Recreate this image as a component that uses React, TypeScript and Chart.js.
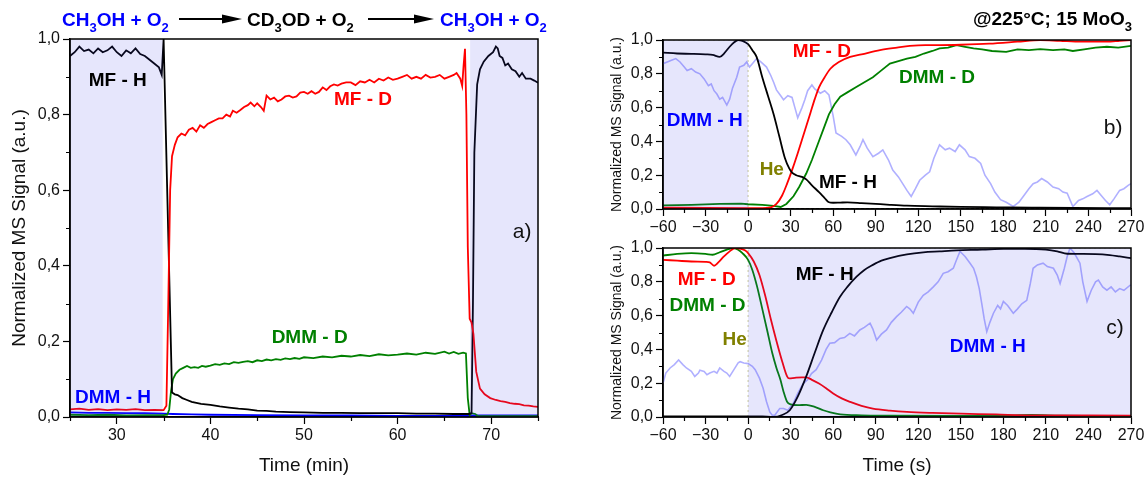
import React, { useEffect, useRef } from "react";
import { Chart, registerables } from "chart.js";
Chart.register(...registerables);

const FONT = '"Liberation Sans", Arial, Helvetica, sans-serif';
const SHADE = "rgba(60,60,230,0.13)";
const RED = "#ff0000";
const GREEN = "#008000";
const BLACK = "#000000";
const BLUE = "#0000ff";
const LIGHT = "#b0b0ff";
const HECOL = "rgba(175,175,100,0.55)";
const OLIVE = "#808000";

type P = [number, number];

// ---------- tick labels ----------
const yTickLabels = ["0,0", "0,2", "0,4", "0,6", "0,8", "1,0"];
const aXTickLabels = ["30", "40", "50", "60", "70"]; // at 30..70 min
const sXTickLabels = ["−60", "−30", "0", "30", "60", "90", "120", "150", "180", "210", "240", "270"];

// ---------- panel a (time in min) ----------
const aMfH: P[] = [
  [25, 0.955], [25.5, 0.965], [26, 0.98], [26.5, 0.968], [27, 0.972], [27.5, 0.962], [28, 0.975], [28.5, 0.965],
  [29, 0.97], [29.5, 0.98], [30, 0.965], [30.5, 0.955], [31, 0.97], [31.5, 0.962], [32, 0.975], [32.5, 0.96],
  [33, 0.955], [33.5, 0.945], [34, 0.935], [34.5, 0.925], [34.8, 0.905], [35.0, 1.0], [35.9, 0.065], [36.2, 0.06],
  [36.5, 0.058], [37, 0.05], [37.5, 0.045], [38, 0.04], [39, 0.035], [40, 0.032], [41, 0.028], [42, 0.025],
  [43, 0.022], [44, 0.02], [45, 0.017], [46, 0.016], [47, 0.014], [48.5, 0.013], [50, 0.012], [52, 0.011],
  [54, 0.011], [56, 0.01], [58, 0.01], [60, 0.01], [62, 0.009], [64, 0.009], [66, 0.008], [67.6, 0.008],
  [67.9, 0.01], [68.05, 0.3], [68.2, 0.7], [68.5, 0.88], [68.8, 0.92], [69.2, 0.94], [69.7, 0.955], [70.2, 0.965],
  [70.5, 0.98], [70.7, 0.975], [70.9, 0.955], [71.2, 0.95], [71.5, 0.93], [71.8, 0.935], [72.2, 0.92], [72.6, 0.915],
  [73, 0.9], [73.3, 0.91], [73.7, 0.895], [74.2, 0.895], [74.6, 0.89], [75, 0.884],
];
const aMfD: P[] = [
  [25, 0.02], [26, 0.022], [27, 0.019], [28, 0.021], [29, 0.018], [30, 0.02], [31, 0.019], [32, 0.021], [33, 0.018],
  [34, 0.019], [35, 0.018], [35.3, 0.03], [35.5, 0.3], [35.7, 0.6], [35.9, 0.69], [36.2, 0.72], [36.5, 0.74],
  [36.9, 0.75], [37.3, 0.745], [37.7, 0.76], [38.1, 0.765], [38.5, 0.755], [38.9, 0.772], [39.3, 0.765],
  [39.7, 0.775], [40.1, 0.78], [40.5, 0.785], [40.9, 0.79], [41.3, 0.79], [41.7, 0.8], [42.1, 0.795], [42.4, 0.81],
  [42.8, 0.805], [43.2, 0.812], [43.6, 0.82], [44.0, 0.825], [44.3, 0.832], [44.7, 0.822], [45.0, 0.83],
  [45.4, 0.82], [45.7, 0.81], [46.0, 0.85], [46.4, 0.84], [46.8, 0.845], [47.2, 0.835], [47.6, 0.84], [48.0, 0.848],
  [48.4, 0.85], [48.8, 0.845], [49.2, 0.848], [49.6, 0.858], [50.0, 0.86], [50.4, 0.855], [50.8, 0.862],
  [51.2, 0.855], [51.6, 0.86], [52.0, 0.872], [52.4, 0.865], [52.8, 0.875], [53.2, 0.88], [53.6, 0.877],
  [54.0, 0.882], [54.5, 0.885], [55, 0.885], [55.5, 0.878], [56, 0.888], [56.5, 0.885], [57, 0.892], [57.5, 0.885],
  [58, 0.895], [58.5, 0.89], [59, 0.898], [59.5, 0.892], [60, 0.895], [60.5, 0.9], [61, 0.905], [61.5, 0.895],
  [62, 0.9], [62.5, 0.895], [63, 0.905], [63.5, 0.898], [64, 0.9], [64.5, 0.905], [65, 0.895], [65.5, 0.9],
  [66, 0.905], [66.3, 0.91], [66.7, 0.895], [66.9, 0.876], [67.05, 0.93], [67.2, 0.974], [67.35, 0.8], [67.5, 0.45],
  [67.7, 0.26], [67.9, 0.25], [68.1, 0.22], [68.4, 0.12], [68.8, 0.075], [69.3, 0.06], [69.9, 0.05], [70.5, 0.045],
  [71, 0.042], [71.5, 0.04], [72, 0.037], [72.5, 0.035], [73, 0.034], [73.5, 0.031], [74, 0.03], [74.5, 0.028],
  [75, 0.027],
];
const aDmmD: P[] = [
  [25, 0.006], [27, 0.005], [29, 0.006], [31, 0.004], [33, 0.005], [35, 0.005], [35.4, 0.006], [35.6, 0.02],
  [35.8, 0.07], [36.0, 0.1], [36.3, 0.115], [36.7, 0.125], [37.1, 0.13], [37.5, 0.135], [37.9, 0.13], [38.3, 0.132],
  [38.7, 0.13], [39.1, 0.135], [39.5, 0.133], [40, 0.136], [40.5, 0.14], [41, 0.138], [41.5, 0.142], [42, 0.14],
  [42.5, 0.145], [43, 0.143], [43.5, 0.146], [44, 0.148], [44.5, 0.145], [45, 0.15], [45.5, 0.148], [46, 0.152],
  [46.5, 0.15], [47, 0.153], [47.5, 0.151], [48, 0.155], [48.5, 0.153], [49, 0.156], [49.5, 0.154], [50, 0.158],
  [51, 0.156], [52, 0.16], [53, 0.158], [54, 0.162], [55, 0.16], [56, 0.164], [57, 0.161], [58, 0.166], [59, 0.163],
  [60, 0.165], [61, 0.168], [62, 0.165], [63, 0.17], [64, 0.167], [65, 0.173], [65.5, 0.168], [66, 0.172],
  [66.5, 0.167], [67, 0.17], [67.3, 0.168], [67.5, 0.05], [67.7, 0.005], [67.9, 0.01], [68.3, 0.008], [68.6, 0.002],
  [70, 0.002], [75, 0.002],
];
const aDmmH: P[] = [
  [25, 0.012], [27, 0.011], [29, 0.011], [31, 0.01], [33, 0.01], [35, 0.009], [36, 0.008], [38, 0.007], [40, 0.006],
  [45, 0.005], [50, 0.004], [55, 0.004], [60, 0.003], [65, 0.003], [67.5, 0.003], [68, 0.004], [70, 0.004], [75, 0.004],
];
const aShades: P[] = [[25, 34.9], [67.75, 75]];

// ---------- panel b (time in s) ----------
const bMfH: P[] = [
  [-60, 0.925], [-50, 0.92], [-40, 0.918], [-30, 0.915], [-25, 0.912], [-20, 0.9], [-17, 0.92], [-13, 0.96],
  [-10, 0.985], [-7, 1.0], [-4, 0.995], [0, 0.975], [3, 0.94], [6, 0.9], [10, 0.78], [14, 0.67], [18, 0.56],
  [22, 0.43], [26, 0.3], [29, 0.24], [31, 0.215], [34, 0.2], [38, 0.19], [41, 0.175], [45, 0.14], [50, 0.1],
  [54, 0.065], [57, 0.04], [60, 0.037], [65, 0.038], [70, 0.039], [80, 0.035], [90, 0.03], [100, 0.025],
  [112, 0.02], [130, 0.016], [150, 0.012], [175, 0.01], [200, 0.008], [230, 0.006], [270, 0.005],
];
const bMfD: P[] = [
  [-60, 0.008], [-30, 0.006], [0, 0.005], [10, 0.005], [16, 0.01], [20, 0.03], [24, 0.08], [27.5, 0.15], [31, 0.23],
  [35, 0.33], [38, 0.41], [41, 0.49], [44, 0.57], [47, 0.65], [50, 0.72], [54, 0.78], [58, 0.83], [64, 0.87],
  [72, 0.9], [80, 0.915], [93, 0.94], [105, 0.955], [114, 0.965], [125, 0.97], [135, 0.97], [150, 0.972],
  [170, 0.978], [190, 0.99], [206, 1.0], [220, 0.995], [235, 0.99], [253, 0.99], [262, 0.995], [270, 1.0],
];
const bDmmD: P[] = [
  [-60, 0.022], [-40, 0.025], [-20, 0.03], [-5, 0.032], [0, 0.028], [10, 0.025], [18, 0.018], [23, 0.012],
  [27, 0.03], [32, 0.075], [36, 0.13], [41, 0.21], [45, 0.29], [49, 0.38], [53, 0.47], [57, 0.56], [61, 0.62],
  [65, 0.665], [70, 0.69], [76, 0.72], [82, 0.75], [88, 0.78], [94, 0.82], [100, 0.86], [106, 0.875], [112, 0.89],
  [118, 0.9], [124, 0.92], [130, 0.935], [135, 0.95], [141, 0.955], [147, 0.97], [153, 0.96], [159, 0.95],
  [165, 0.945], [172, 0.935], [182, 0.93], [190, 0.945], [198, 0.94], [206, 0.946], [215, 0.94], [223, 0.945],
  [229, 0.935], [237, 0.945], [245, 0.955], [253, 0.96], [261, 0.955], [270, 0.965],
];
const bDmmH: P[] = [
  [-60, 0.86], [-57, 0.87], [-54, 0.88], [-51, 0.89], [-48, 0.87], [-45, 0.84], [-43, 0.82], [-40, 0.83],
  [-37, 0.81], [-34, 0.8], [-31, 0.77], [-28, 0.73], [-26, 0.74], [-24, 0.7], [-22, 0.68], [-20, 0.65], [-18, 0.66],
  [-15, 0.615], [-13, 0.65], [-11, 0.715], [-8, 0.78], [-6, 0.84], [-3, 0.85], [-1, 0.87], [1, 0.84], [3, 0.86],
  [6, 0.89], [9, 0.87], [13, 0.84], [16, 0.79], [18, 0.75], [20, 0.705], [23, 0.67], [25, 0.646], [28, 0.67],
  [31, 0.66], [33, 0.6], [35, 0.54], [38, 0.6], [40, 0.646], [42, 0.7], [45, 0.734], [47, 0.71], [51, 0.685],
  [54, 0.7], [57, 0.675], [60, 0.55], [62, 0.45], [66, 0.43], [69, 0.41], [72, 0.38], [76, 0.32], [79, 0.37],
  [81, 0.41], [84, 0.36], [88, 0.31], [92, 0.33], [95, 0.35], [99, 0.29], [102, 0.23], [106, 0.19], [109, 0.15],
  [112, 0.11], [115, 0.074], [118, 0.12], [121, 0.17], [125, 0.2], [128, 0.22], [131, 0.3], [135, 0.38],
  [139, 0.35], [142, 0.36], [146, 0.34], [149, 0.38], [153, 0.35], [156, 0.31], [160, 0.3], [164, 0.27], [167, 0.2],
  [171, 0.15], [174, 0.1], [178, 0.055], [182, 0.04], [187, 0.015], [191, 0.04], [194, 0.074], [198, 0.12],
  [201, 0.15], [204, 0.16], [207, 0.18], [211, 0.16], [215, 0.13], [219, 0.12], [222, 0.1], [225, 0.094],
  [229, 0.015], [233, 0.05], [236, 0.06], [239, 0.074], [243, 0.09], [246, 0.11], [249, 0.08], [252, 0.05],
  [255, 0.025], [258, 0.06], [262, 0.11], [265, 0.12], [268, 0.14], [270, 0.15],
];
const bHe: P[] = [[-60, 1], [0, 1], [0, 0], [270, 0]];
const bShades: P[] = [[-60, 0]];

// ---------- panel c (time in s) ----------
const cMfD: P[] = [
  [-60, 0.93], [-50, 0.925], [-40, 0.92], [-30, 0.918], [-27, 0.915], [-24, 0.895], [-21, 0.915], [-17, 0.95],
  [-13, 0.98], [-9, 1.0], [-5, 0.995], [-2, 0.985], [0, 0.97], [4, 0.92], [8, 0.84], [12, 0.72], [16, 0.58],
  [20, 0.45], [24, 0.33], [27.5, 0.24], [29, 0.228], [33, 0.232], [38, 0.235], [41, 0.235], [45, 0.22], [50, 0.198],
  [55, 0.17], [60, 0.139], [66, 0.11], [72, 0.089], [80, 0.066], [88, 0.05], [100, 0.038], [112, 0.03],
  [130, 0.024], [150, 0.02], [175, 0.015], [200, 0.01], [230, 0.009], [270, 0.008],
];
const cDmmD: P[] = [
  [-60, 0.955], [-50, 0.965], [-40, 0.97], [-30, 0.965], [-25, 0.96], [-20, 0.975], [-15, 0.99], [-10, 1.0],
  [-7, 0.99], [-4, 0.97], [0, 0.93], [3, 0.87], [6.4, 0.77], [10, 0.64], [13.4, 0.515], [17, 0.38], [20, 0.29],
  [22.8, 0.22], [25, 0.15], [27.5, 0.09], [30, 0.075], [35, 0.07], [41, 0.072], [47, 0.06], [53, 0.04],
  [58, 0.028], [65, 0.016], [80, 0.01], [100, 0.008], [150, 0.006], [180, 0.008], [200, 0.012], [220, 0.008],
  [270, 0.005],
];
const cMfH: P[] = [
  [-60, 0.003], [-30, 0.003], [0, 0.004], [10, 0.003], [18, 0.0], [24, 0.012], [29.4, 0.04], [35, 0.12], [41, 0.24],
  [47, 0.38], [53, 0.515], [59, 0.62], [64.7, 0.71], [70, 0.77], [76.5, 0.83], [82, 0.87], [88, 0.9], [94, 0.925],
  [100, 0.94], [112, 0.962], [123.5, 0.974], [135, 0.98], [147, 0.986], [165, 0.99], [180, 0.995], [195, 0.995],
  [210, 0.99], [218, 0.98], [225, 0.966], [235, 0.965], [245, 0.964], [255, 0.958], [262, 0.95], [270, 0.94],
];
const cDmmH: P[] = [
  [-60, 0.2], [-58, 0.26], [-55, 0.29], [-52, 0.31], [-49, 0.337], [-46, 0.31], [-43.5, 0.29], [-40, 0.27],
  [-37.6, 0.24], [-35, 0.26], [-34, 0.277], [-31, 0.27], [-29, 0.25], [-27, 0.26], [-24, 0.27], [-22, 0.26],
  [-20, 0.29], [-17, 0.27], [-15, 0.26], [-13, 0.24], [-10, 0.28], [-7, 0.32], [-5.6, 0.327], [-3, 0.32],
  [0, 0.316], [3, 0.3], [5, 0.28], [8, 0.23], [10.6, 0.17], [13, 0.09], [15.3, 0.03], [17, 0.01], [18.8, 0.01],
  [20.5, 0.03], [22.3, 0.05], [25, 0.05], [28, 0.04], [31.8, 0.08], [35, 0.14], [38.8, 0.198], [42, 0.22],
  [44.7, 0.257], [48, 0.28], [51.8, 0.337], [55, 0.4], [57.6, 0.436], [61, 0.44], [64.7, 0.465], [68, 0.47],
  [71.7, 0.495], [75, 0.48], [78.8, 0.515], [82, 0.53], [86, 0.555], [88, 0.52], [90.6, 0.455], [94, 0.49],
  [97.6, 0.515], [101, 0.56], [104.7, 0.594], [108, 0.62], [111.8, 0.654], [114, 0.64], [116.5, 0.614], [120, 0.68],
  [123.5, 0.72], [127, 0.74], [130.6, 0.77], [134, 0.8], [137.6, 0.85], [141, 0.86], [144.7, 0.88], [147, 0.93],
  [149.4, 0.98], [153, 0.95], [156.5, 0.91], [159, 0.88], [161, 0.83], [163, 0.76], [164.8, 0.67], [166.5, 0.58],
  [168.3, 0.505], [170.5, 0.56], [173, 0.614], [176, 0.66], [178, 0.64], [180, 0.684], [183, 0.66], [187, 0.614],
  [190, 0.64], [193, 0.67], [196.5, 0.69], [199, 0.79], [201, 0.88], [204, 0.9], [208, 0.91], [211, 0.89],
  [215.3, 0.88], [218, 0.84], [220, 0.79], [223, 0.88], [225, 0.95], [227, 1.0], [230, 0.97], [234, 0.91],
  [236, 0.8], [239, 0.684], [242, 0.75], [245, 0.8], [247, 0.81], [250, 0.77], [253, 0.75], [256, 0.77],
  [259, 0.74], [262, 0.76], [265, 0.75], [269.4, 0.78], [270, 0.78],
];
const cHe: P[] = [[-60, 0], [0, 0], [0, 1], [270, 1]];
const cShades: P[] = [[0, 270]];

// ---------- helpers ----------
type Note = { text: string; x: number; y: number; color: string; size?: number; bold?: boolean };

const mk = (p: P[]) => p.map(([x, y]) => ({ x, y }));

function line(data: P[], color: string, extra: any = {}) {
  return {
    data: mk(data),
    borderColor: color,
    backgroundColor: color,
    borderWidth: 1.8,
    pointRadius: 0,
    fill: false,
    tension: 0,
    ...extra,
  };
}

function drawChem(ctx: CanvasRenderingContext2D, parts: string[], x: number, base: number, color: string, size: number) {
  ctx.fillStyle = color;
  ctx.textAlign = "left";
  ctx.textBaseline = "alphabetic";
  let cx = x;
  parts.forEach((p, i) => {
    const sub = i % 2 === 1;
    ctx.font = `bold ${sub ? Math.round(size * 0.68) : size}px ${FONT}`;
    ctx.fillText(p, cx, base + (sub ? size * 0.3 : 0));
    cx += ctx.measureText(p).width;
  });
  return cx;
}

function chemWidth(ctx: CanvasRenderingContext2D, parts: string[], size: number) {
  let w = 0;
  parts.forEach((p, i) => {
    const sub = i % 2 === 1;
    ctx.font = `bold ${sub ? Math.round(size * 0.68) : size}px ${FONT}`;
    w += ctx.measureText(p).width;
  });
  return w;
}

function arrow(ctx: CanvasRenderingContext2D, x0: number, x1: number, y: number) {
  ctx.strokeStyle = "#000";
  ctx.fillStyle = "#000";
  ctx.lineWidth = 2;
  ctx.beginPath();
  ctx.moveTo(x0, y);
  ctx.lineTo(x1 - 16, y);
  ctx.stroke();
  ctx.beginPath();
  ctx.moveTo(x1, y);
  ctx.lineTo(x1 - 20, y - 4.5);
  ctx.lineTo(x1 - 20, y + 4.5);
  ctx.closePath();
  ctx.fill();
}

const MINOR_LEN = 4;

const decorPlugin = {
  id: "decor",
  afterDatasetsDraw(chart: any, _args: any, opts: any) {
    const { ctx, chartArea: ca, scales } = chart;
    const x = scales.x;
    const y = scales.y;
    ctx.save();
    ctx.fillStyle = SHADE;
    for (const [a, b] of opts.shades as P[]) {
      const p0 = Math.max(x.getPixelForValue(a), ca.left);
      const p1 = Math.min(x.getPixelForValue(b), ca.right);
      ctx.fillRect(p0, ca.top, p1 - p0, ca.bottom - ca.top);
    }
    ctx.strokeStyle = "#000";
    ctx.lineWidth = 1.5;
    ctx.strokeRect(ca.left, ca.top, ca.right - ca.left, ca.bottom - ca.top);
    // minor ticks (shorter)
    ctx.lineWidth = 1.2;
    ctx.beginPath();
    for (const t of x.ticks) {
      if (t.label === "") {
        const px = Math.round(x.getPixelForValue(t.value)) + 0.5;
        ctx.moveTo(px, ca.bottom);
        ctx.lineTo(px, ca.bottom + MINOR_LEN);
      }
    }
    for (const t of y.ticks) {
      if (t.label === "") {
        const py = Math.round(y.getPixelForValue(t.value)) + 0.5;
        ctx.moveTo(ca.left - MINOR_LEN, py);
        ctx.lineTo(ca.left, py);
      }
    }
    ctx.stroke();
    ctx.textAlign = "center";
    ctx.textBaseline = "middle";
    for (const n of opts.notes as Note[]) {
      ctx.font = `${n.bold === false ? "" : "bold "}${n.size || 19}px ${FONT}`;
      ctx.fillStyle = n.color;
      ctx.fillText(n.text, x.getPixelForValue(n.x), y.getPixelForValue(n.y));
    }
    ctx.restore();
  },
  afterDraw(chart: any, _args: any, opts: any) {
    if (opts.header) {
      chart.ctx.save();
      opts.header(chart.ctx);
      chart.ctx.restore();
    }
  },
};

function yLabel(v: number) {
  const k = v * 5;
  const r = Math.round(k);
  return Math.abs(k - r) < 1e-6 ? yTickLabels[r] : "";
}
function aXLabel(v: number) {
  const k = (v - 30) / 10;
  const r = Math.round(k);
  return Math.abs(k - r) < 1e-6 && r >= 0 && r < aXTickLabels.length ? aXTickLabels[r] : "";
}
function sXLabel(v: number) {
  const k = (v + 60) / 30;
  const r = Math.round(k);
  return Math.abs(k - r) < 1e-6 ? sXTickLabels[r] : "";
}

function makeConfig(o: {
  datasets: any[];
  xMin: number; xMax: number; xStep: number; xLabel: (v: number) => string;
  yAxisWidth: number; xAxisHeight: number; padding: any;
  yTitle: string; yTitleSize: number; yTitlePad: number;
  xTitle?: string;
  shades: P[]; notes: Note[]; header?: (ctx: CanvasRenderingContext2D) => void;
}) {
  const tickFont = { family: FONT, size: 16 };
  const xTickColor = (c: any) => (c.tick && o.xLabel(Number(c.tick.value)) !== "" ? "#000" : "rgba(0,0,0,0)");
  const yTickColor = (c: any) => (c.tick && yLabel(Number(c.tick.value)) !== "" ? "#000" : "rgba(0,0,0,0)");
  return {
    type: "line",
    data: { datasets: o.datasets },
    plugins: [decorPlugin],
    options: {
      animation: false,
      responsive: false,
      devicePixelRatio: 1,
      layout: { padding: o.padding },
      plugins: {
        legend: { display: false },
        tooltip: { enabled: false },
        decor: { shades: o.shades, notes: o.notes, header: o.header },
      },
      scales: {
        x: {
          type: "linear",
          min: o.xMin,
          max: o.xMax,
          afterFit: (s: any) => { s.height = o.xAxisHeight; },
          ticks: {
            stepSize: o.xStep,
            autoSkip: false,
            maxRotation: 0,
            padding: 2,
            color: "#111",
            font: tickFont,
            callback: (v: any) => o.xLabel(Number(v)),
          },
          grid: { drawOnChartArea: false, drawTicks: true, tickLength: 7, color: "#000", tickColor: xTickColor, tickWidth: 1.2 },
          border: { display: true, color: "#000", width: 1.5 },
          title: o.xTitle
            ? { display: true, text: o.xTitle, color: "#111", font: { family: FONT, size: 19 }, padding: { top: 0, bottom: 0.6 } }
            : { display: false },
        },
        y: {
          type: "linear",
          min: 0,
          max: 1,
          afterFit: (s: any) => { s.width = o.yAxisWidth; },
          ticks: {
            stepSize: 0.1,
            autoSkip: false,
            padding: 3,
            color: "#111",
            font: tickFont,
            callback: (v: any) => yLabel(Number(v)),
          },
          grid: { drawOnChartArea: false, drawTicks: true, tickLength: 7, color: "#000", tickColor: yTickColor, tickWidth: 1.2 },
          border: { display: true, color: "#000", width: 1.5 },
          title: {
            display: true,
            text: o.yTitle,
            color: "#111",
            font: { family: FONT, size: o.yTitleSize },
            padding: { top: o.yTitlePad, bottom: 0 },
          },
        },
      },
    },
  };
}

function Panel(props: { left: number; top: number; width: number; height: number; build: () => any }) {
  const ref = useRef<HTMLCanvasElement>(null);
  useEffect(() => {
    const chart = new Chart(ref.current as HTMLCanvasElement, props.build());
    return () => chart.destroy();
  }, []);
  return (
    <canvas
      ref={ref}
      width={props.width}
      height={props.height}
      style={{ position: "absolute", left: props.left, top: props.top, width: props.width, height: props.height }}
    />
  );
}

const buildA = () =>
  makeConfig({
    datasets: [
      line(aMfD, RED),
      line(aMfH, BLACK),
      line(aDmmD, GREEN),
      line(aDmmH, BLUE),
    ],
    xMin: 25, xMax: 75, xStep: 5, xLabel: aXLabel,
    yAxisWidth: 70, xAxisHeight: 61,
    padding: { left: 0, top: 39, right: 42, bottom: 0 },
    yTitle: "Normalized MS Signal (a.u.)", yTitleSize: 19, yTitlePad: 8.6,
    xTitle: "Time (min)",
    shades: aShades,
    notes: [
      { text: "MF - H", x: 30.1, y: 0.89, color: BLACK },
      { text: "MF - D", x: 56.3, y: 0.84, color: RED },
      { text: "DMM - D", x: 50.6, y: 0.21, color: GREEN },
      { text: "DMM - H", x: 29.6, y: 0.05, color: BLUE },
      { text: "a)", x: 73.3, y: 0.49, color: "#111", size: 21, bold: false },
    ],
    header: (ctx) => {
      drawChem(ctx, ["CH", "3", "OH + O", "2"], 62, 26, BLUE, 19);
      arrow(ctx, 179, 242, 19);
      drawChem(ctx, ["CD", "3", "OD + O", "2"], 247, 26, BLACK, 19);
      arrow(ctx, 368, 434, 19);
      drawChem(ctx, ["CH", "3", "OH + O", "2"], 440, 26, BLUE, 19);
    },
  });

const smooth = { cubicInterpolationMode: "monotone" };

const buildB = () =>
  makeConfig({
    datasets: [
      line(bMfH, BLACK, smooth),
      line(bMfD, RED, smooth),
      line(bDmmD, GREEN),
      line(bDmmH, LIGHT, { borderWidth: 1.6 }),
      line(bHe, HECOL, { borderWidth: 1.2, borderDash: [2, 3] }),
    ],
    xMin: -60, xMax: 270, xStep: 15, xLabel: sXLabel,
    yAxisWidth: 83, xAxisHeight: 31,
    padding: { left: 0, top: 40, right: 17, bottom: 0 },
    yTitle: "Normalized MS Signal (a.u.)", yTitleSize: 14, yTitlePad: 28.6,
    shades: bShades,
    notes: [
      { text: "MF - D", x: 52, y: 0.93, color: RED },
      { text: "DMM - D", x: 133.2, y: 0.775, color: GREEN },
      { text: "DMM - H", x: -30.6, y: 0.52, color: BLUE },
      { text: "He", x: 16.7, y: 0.23, color: OLIVE },
      { text: "MF - H", x: 70.4, y: 0.155, color: BLACK },
      { text: "b)", x: 257.4, y: 0.48, color: "#111", size: 21, bold: false },
    ],
    header: (ctx) => {
      const parts = ["@225°C; 15 MoO", "3"];
      const w = chemWidth(ctx, parts, 19);
      drawChem(ctx, parts, 552 - w, 25, BLACK, 19);
    },
  });

const buildC = () =>
  makeConfig({
    datasets: [
      line(cMfH, BLACK, smooth),
      line(cMfD, RED, smooth),
      line(cDmmD, GREEN, smooth),
      line(cDmmH, LIGHT, { borderWidth: 1.6 }),
      line(cHe, HECOL, { borderWidth: 1.2, borderDash: [2, 3] }),
    ],
    xMin: -60, xMax: 270, xStep: 15, xLabel: sXLabel,
    yAxisWidth: 83, xAxisHeight: 61,
    padding: { left: 0, top: 16, right: 17, bottom: 0 },
    yTitle: "Normalized MS Signal (a.u.)", yTitleSize: 14, yTitlePad: 28.6,
    xTitle: "Time (s)",
    shades: cShades,
    notes: [
      { text: "MF - D", x: -29.2, y: 0.81, color: RED },
      { text: "DMM - D", x: -28.6, y: 0.657, color: GREEN },
      { text: "He", x: -9.5, y: 0.455, color: OLIVE },
      { text: "MF - H", x: 54, y: 0.84, color: BLACK },
      { text: "DMM - H", x: 169, y: 0.415, color: BLUE },
      { text: "c)", x: 258.7, y: 0.526, color: "#111", size: 21, bold: false },
    ],
  });

export default function App() {
  return (
    <div
      style={{
        position: "fixed",
        left: 0,
        top: 0,
        width: 1148,
        height: 478,
        background: "#ffffff",
        overflow: "hidden",
      }}
    >
      <Panel left={0} top={0} width={580} height={478} build={buildA} />
      <Panel left={580} top={0} width={568} height={240} build={buildB} />
      <Panel left={580} top={232} width={568} height={246} build={buildC} />
    </div>
  );
}
